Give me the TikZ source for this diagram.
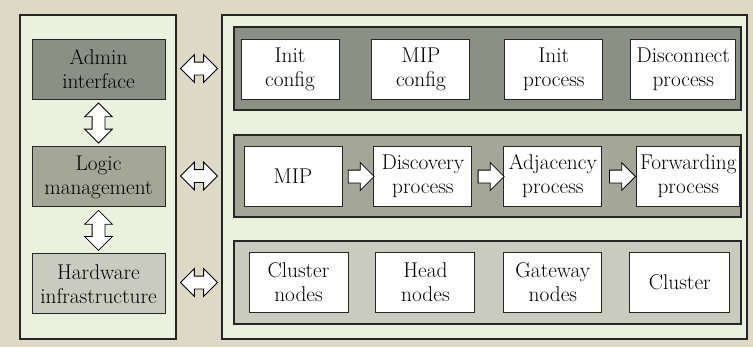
\documentclass[tikz,border=0pt]{standalone}
\usepackage{fontspec}
\usepackage{xcolor}
\usepackage{tikz}
\usetikzlibrary{positioning,calc,shapes.arrows}

\definecolor{bgbeige}{RGB}{222,217,197}
\definecolor{panelgreen}{RGB}{235,241,223}
\definecolor{darklayer}{RGB}{140,143,132}
\definecolor{midlayer}{RGB}{164,167,152}
\definecolor{lightlayer}{RGB}{200,203,190}
\definecolor{edgegray}{RGB}{38,38,38}

\newdimen\pxu
\pxu=0.75pt

\begin{document}
\begin{tikzpicture}[x=0.75pt, y=-0.75pt,
    panel/.style={rectangle, draw=edgegray, fill=panelgreen, line width=0.8pt, minimum width=#1\pxu, minimum height=324\pxu, inner sep=0pt},
    band/.style={rectangle, draw=edgegray, line width=0.8pt, minimum width=507\pxu, minimum height=83\pxu, inner sep=0pt},
    layerbox/.style={rectangle, draw=edgegray, line width=0.7pt, minimum width=133\pxu, minimum height=60\pxu, inner sep=0pt, align=center, font=\fontsize{16}{18}\selectfont},
    itembox/.style={rectangle, draw=edgegray, fill=white, line width=0.7pt, minimum width=98\pxu, minimum height=60\pxu, inner sep=0pt, align=center, font=\fontsize{16}{18}\selectfont},
    dblarrow/.style={double arrow, draw=black, fill=white, line width=0.6pt, inner xsep=0pt, inner ysep=4.5pt, double arrow head extend=5.6pt, minimum height=37\pxu},
    sglarrow/.style={single arrow, draw=black, fill=white, line width=0.6pt, inner xsep=0pt, inner ysep=4.5pt, single arrow head extend=5.6pt, minimum height=26\pxu}]

    % background and the two panels
    \fill[bgbeige] (0,0) rectangle (753,347);
    \node[panel=156] (lpanel) at (98,177) {};
    \node[panel=525] (rpanel) at (484.5,177) {};

    % layer bands on the right
    \node[band, fill=darklayer] (band1) at (487.5,68.5) {};
    \node[band, fill=midlayer, minimum height=82\pxu] (band2) at (487.5,176) {};
    \node[band, fill=lightlayer] (band3) at (487.5,282.5) {};

    % layers on the left
    \node[layerbox, fill=darklayer] (admin) at (98.5,69) {Admin\\interface};
    \node[layerbox, fill=midlayer, below=47\pxu of admin] (logic) {Logic\\management};
    \node[layerbox, fill=lightlayer, below=46\pxu of logic] (hardware) {Hardware\\infrastructure};

    % first band
    \node[itembox] (initcfg) at (290,69) {Init\\config};
    \node[itembox, right=32\pxu of initcfg] (mipcfg) {MIP\\config};
    \node[itembox, right=34\pxu of mipcfg] (initproc) {Init\\process};
    \node[itembox, right=27\pxu of initproc, minimum width=105\pxu] (discproc) {Disconnect\\process};

    % second band
    \node[itembox] (mip) at (293,176.5) {MIP};
    \node[itembox, right=31\pxu of mip] (discovery) {Discovery\\process};
    \node[itembox, right=31\pxu of discovery] (adjacency) {Adjacency\\process};
    \node[itembox, right=34\pxu of adjacency, minimum width=103\pxu] (forwarding) {Forwarding\\process};

    % third band
    \node[itembox, minimum width=99\pxu] (clnodes) at (298.5,282.5) {Cluster\\nodes};
    \node[itembox, right=27\pxu of clnodes, minimum width=99\pxu] (headnodes) {Head\\nodes};
    \node[itembox, right=28\pxu of headnodes] (gwnodes) {Gateway\\nodes};
    \node[itembox, right=27\pxu of gwnodes, minimum width=100\pxu] (cluster) {Cluster};

    % hollow arrows
    \coordinate (gap) at ($(lpanel.east)!0.5!(rpanel.west)$);
    \node[dblarrow] (link1) at (gap |- band1) {};
    \node[dblarrow] (link2) at (gap |- band2) {};
    \node[dblarrow] (link3) at (gap |- band3) {};
    \node[dblarrow, rotate=90, minimum height=40\pxu] (up1) at ($(admin.south)!0.5!(logic.north)$) {};
    \node[dblarrow, rotate=90, minimum height=40\pxu] (up2) at ($(logic.south)!0.5!(hardware.north)$) {};
    \node[sglarrow] (flow1) at ($(mip.east)!0.5!(discovery.west)$) {};
    \node[sglarrow] (flow2) at ($(discovery.east)!0.5!(adjacency.west)$) {};
    \node[sglarrow] (flow3) at ($(adjacency.east)!0.5!(forwarding.west)$) {};
\end{tikzpicture}
\end{document}
